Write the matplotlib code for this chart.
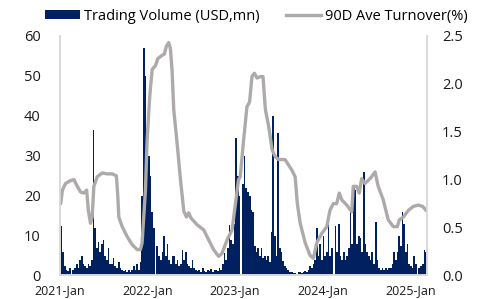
import matplotlib
matplotlib.use("Agg")
import matplotlib.pyplot as plt
import pandas as pd
from matplotlib.patches import Patch
from matplotlib.lines import Line2D

plt.rcParams['font.family'] = ['Open Sans', 'DejaVu Sans']

# ---- data ----
week_start = "2021-01-04"
volume = [
    12.5, 6, 2.5, 1.5, 1.2, 1.8, 0, 1.5, 2, 3,
    2, 4, 5, 3, 2.5, 2, 3, 2.5, 4, 36.5,
    12, 7, 8.5, 6, 8, 9, 5, 4, 7, 3,
    3, 4.5, 2.5, 2, 3.5, 2, 1.5, 1.2, 1.5, 1,
    1.5, 1, 1.3, 2.5, 1.5, 3, 1.5, 3.5, 20, 57,
    50, 36, 30, 25, 16, 12, 0, 7.5, 5, 4,
    6, 9.8, 5, 8, 4, 3, 5, 4.8, 3, 4,
    2.5, 3, 6.5, 4, 5.8, 3, 2.5, 2, 4, 2,
    1.5, 1.2, 1.5, 1.0, 1.8, 1.2, 1.0, 1.4, 1.2, 1.6,
    1.0, 1.3, 1.5, 1.1, 1.8, 1.3, 3, 5.6, 4, 7,
    12.7, 9, 8, 13, 34.5, 25, 20, 0, 23, 30,
    22, 21, 20, 16.5, 16, 7.3, 6, 7, 5, 7,
    4.5, 5, 4, 5, 3.5, 11, 40, 10, 5, 35.6,
    7, 6, 3.7, 2.5, 2, 1.5, 1.0, 0.8, 0.6, 0.7,
    0.5, 0.8, 1.0, 0.6, 0.8, 1.2, 1, 1.5, 2.5, 2,
    3, 4, 12, 5, 8, 4, 9.8, 5, 6, 13,
    5, 7, 0, 12.3, 6, 13, 5, 4, 6, 4,
    5, 7, 16, 8, 22.4, 21.5, 8, 9.8, 9.4, 6,
    25.8, 8, 6, 5, 4, 6, 3, 13.5, 4, 2,
    1.5, 1.8, 1.5, 2, 1.5, 2, 1.8, 3, 6, 4,
    6, 10, 7.3, 16, 13, 6, 8, 3, 2.5, 2,
    5, 3, 0, 2, 2.5, 3, 6.4, 6, 15.7,
]

turnover_dates = [
    "2021-01-04", "2021-01-11", "2021-01-24", "2021-02-14", "2021-02-28",
    "2021-03-14", "2021-03-28", "2021-04-10", "2021-04-22", "2021-04-29",
    "2021-05-08", "2021-05-15", "2021-05-22", "2021-06-05", "2021-06-26",
    "2021-07-17", "2021-08-07", "2021-08-24", "2021-08-30", "2021-09-03",
    "2021-09-17", "2021-10-08", "2021-10-29", "2021-11-19", "2021-12-02",
    "2021-12-09", "2021-12-23", "2021-12-30", "2022-01-10", "2022-01-20",
    "2022-02-03", "2022-02-12", "2022-02-26", "2022-03-12", "2022-03-20",
    "2022-03-30", "2022-04-06", "2022-04-13", "2022-04-20", "2022-05-04",
    "2022-05-18", "2022-06-01", "2022-06-12", "2022-06-21", "2022-07-01",
    "2022-07-26", "2022-08-23", "2022-09-13", "2022-10-03", "2022-10-24",
    "2022-11-07", "2022-11-28", "2022-12-19", "2023-01-02", "2023-01-15",
    "2023-01-22", "2023-02-05", "2023-02-19", "2023-03-02", "2023-03-12",
    "2023-03-22", "2023-04-02", "2023-04-16", "2023-04-27", "2023-05-07",
    "2023-05-21", "2023-06-04", "2023-06-17", "2023-06-30", "2023-07-28",
    "2023-08-25", "2023-09-08", "2023-09-17", "2023-09-29", "2023-10-20",
    "2023-11-09", "2023-11-23", "2023-12-07", "2023-12-28", "2024-01-18",
    "2024-01-31", "2024-02-14", "2024-02-28", "2024-03-10", "2024-03-20",
    "2024-04-10", "2024-05-01", "2024-05-07", "2024-05-21", "2024-06-01",
    "2024-06-11", "2024-06-25", "2024-07-16", "2024-08-06", "2024-08-19",
    "2024-09-09", "2024-09-30", "2024-10-21", "2024-11-07", "2024-11-15",
    "2024-12-02", "2024-12-23", "2025-01-12", "2025-02-02", "2025-02-21",
    "2025-03-06",
]
turnover = [
    0.75, 0.89, 0.96, 0.99, 1.00,
    0.93, 0.87, 0.86, 0.89, 0.68,
    0.545, 0.61, 0.93, 1.03, 1.07,
    1.06, 1.06, 1.04, 0.82, 0.61,
    0.51, 0.405, 0.32, 0.27, 0.27,
    0.34, 0.89, 1.41, 1.87, 2.15,
    2.19, 2.26, 2.29, 2.31, 2.39,
    2.43, 2.37, 2.14, 1.73, 1.38,
    1.00, 0.67, 0.61, 0.655, 0.60,
    0.53, 0.475, 0.37, 0.27, 0.20,
    0.23, 0.37, 0.475, 0.75, 1.00,
    1.03, 1.41, 1.76, 1.81, 2.075,
    2.11, 2.06, 2.075, 2.075, 1.73,
    1.55, 1.31, 1.24, 1.21, 1.21,
    1.10, 1.03, 0.75, 0.545, 0.34,
    0.21, 0.18, 0.34, 0.44, 0.51,
    0.68, 0.75, 0.75, 0.86, 0.79,
    0.735, 0.665, 0.93, 0.93, 0.86,
    1.01, 0.96, 1.01, 1.08, 0.93,
    0.79, 0.58, 0.51, 0.51, 0.58,
    0.61, 0.68, 0.72, 0.735, 0.72,
    0.68,
]

x_ticks = ["2021-01-01", "2022-01-01", "2023-01-01", "2024-01-01", "2025-01-01"]
x_tick_labels = ["2021-Jan", "2022-Jan", "2023-Jan", "2024-Jan", "2025-Jan"]
left_ticks = [0, 10, 20, 30, 40, 50, 60]
right_ticks = [0.0, 0.5, 1.0, 1.5, 2.0, 2.5]
x_range = ["2021-01-01", "2025-03-10"]

bar_color = "#002060"
line_color = "#AEAAAA"
spine_color = "#D9D9D9"

# ---- figure ----
fig = plt.figure(figsize=(4.84, 2.99), dpi=100)
ax = fig.add_axes([0.124, 0.0786, 0.758, 0.8014])
weeks = pd.date_range(week_start, periods=len(volume), freq="7D")
ax.bar(weeks, volume, width=7, align="edge", color=bar_color, linewidth=0)

ax2 = ax.twinx()
ax2.plot(pd.to_datetime(turnover_dates), turnover, color=line_color, lw=2.4,
         solid_joinstyle="round", solid_capstyle="round")

ax.set_ylim(0, 60)
ax2.set_ylim(0, 2.5)
ax.set_xlim(pd.Timestamp(x_range[0]), pd.Timestamp(x_range[1]))
ax.set_yticks(left_ticks)
ax.set_yticklabels([str(t) for t in left_ticks])
ax2.set_yticks(right_ticks)
ax2.set_yticklabels([f"{t:.1f}" for t in right_ticks])
ax.set_xticks(pd.to_datetime(x_ticks))
ax.set_xticklabels(x_tick_labels)

for a in (ax, ax2):
    a.spines["top"].set_visible(False)
    for s in ("left", "right", "bottom"):
        a.spines[s].set_color(spine_color)
        a.spines[s].set_linewidth(1.2)
ax.tick_params(axis="y", length=0, pad=14, labelsize=10.5, colors="#1a1a1a")
ax2.tick_params(axis="y", length=0, pad=11, labelsize=10.5, colors="#1a1a1a")
ax.tick_params(axis="x", length=0, pad=6, labelsize=9, colors="#1a1a1a")

handles = [Patch(facecolor=bar_color, edgecolor="none"),
           Line2D([0], [0], color=line_color, lw=2.4)]
labels = ["Trading Volume (USD,mn)", "90D Ave Turnover(%)"]
fig.legend(handles, labels, loc="center", bbox_to_anchor=(0.53, 0.945), ncol=2,
           frameon=False, fontsize=10.5, handlelength=2.4, handleheight=0.6,
           handletextpad=0.3, columnspacing=1.8, borderaxespad=0, borderpad=0)

fig.savefig("out.png", dpi=100)
